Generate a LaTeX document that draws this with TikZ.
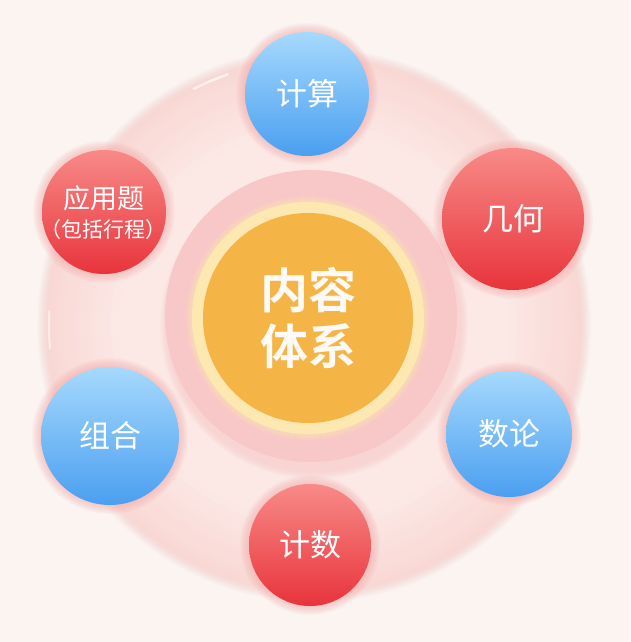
\documentclass[tikz,border=0pt]{standalone}
\usepackage{fontspec}
\newfontfamily\cjk{Noto Sans CJK SC}[BoldFont={Noto Sans CJK SC Bold}]
\definecolor{bgc}{HTML}{FBF4F1}
\definecolor{glowc}{HTML}{F6A8A8}
\definecolor{outerpink}{HTML}{F9D8D4}
\definecolor{lightpink}{HTML}{FCEAE7}
\definecolor{innerpink}{HTML}{F8C7C7}
\definecolor{creamc}{HTML}{FDE8B2}
\definecolor{orangec}{HTML}{F5B446}
\definecolor{bluetop}{HTML}{A6D9FD}
\definecolor{bluebot}{HTML}{4A9FF0}
\definecolor{redtop}{HTML}{F88A88}
\definecolor{redbot}{HTML}{E8343B}
\tikzset{
  sat/.style={circle, minimum size=#1, inner sep=0pt, text=white, align=center,
    font=\cjk\fontsize{31}{36}\selectfont},
  bluesat/.style={sat=#1, shading=axis, top color=bluetop, bottom color=bluebot},
  redsat/.style={sat=#1, shading=axis, top color=redtop, bottom color=redbot},
}
\begin{document}
\begin{tikzpicture}[x=1pt,y=-1pt]
\useasboundingbox (0,0) rectangle (630,642);
\fill[bgc] (0,0) rectangle (630,642);
% big background disc
\coordinate (C) at (314,325);
\foreach \k in {1,...,10} \fill[glowc, opacity=0.035] (C) circle ({267pt+\k pt});
\foreach \i in {0,...,19} {
  \pgfmathsetmacro{\rr}{267-4*\i}
  \pgfmathsetmacro{\mix}{100-5*\i}
  \fill[outerpink!\mix!lightpink] (C) circle (\rr pt);
}
% decorative white arc highlights
\draw[white, line width=2.5pt, line cap=round, opacity=0.6] (C) ++(109:265pt) arc[start angle=109, end angle=117, radius=265pt];
\draw[white, line width=2pt, line cap=round, opacity=0.5] (C) ++(177:265pt) arc[start angle=177, end angle=185, radius=265pt];
% inner pink disc
\foreach \k in {1,...,8} \fill[innerpink, opacity=0.09] (C) circle ({146pt+\k pt});
\fill[innerpink] (311,316) circle (146pt);
% core
\foreach \k in {1,...,6} \fill[creamc, opacity=0.12] (308,318) circle ({116pt+\k pt});
\node[circle, fill=creamc, minimum size=232pt, inner sep=0pt] (core) at (308,318) {};
\fill[orangec] (core.center) circle (105pt);
\node[text=white!96!orange, align=center, font=\cjk\bfseries\fontsize{48}{56}\selectfont] (coretxt) at (core.center) {内容\\体系};
% satellite glows
\foreach \p/\r in {{(307,94)}/62, {(513,219)}/71, {(509,434)}/63, {(310,545)}/61, {(110,436)}/69, {(104,212)}/62}
  \foreach \k in {1,...,9} \fill[glowc, opacity=0.07] \p circle ({\r pt+\k pt});
% satellites
\node[bluesat=124pt] (jisuan) at (307,94) {计算};
\node[redsat=142pt] (jihe) at (513,219) {几何};
\node[bluesat=126pt] (shulun) at (509,434) {数论};
\node[redsat=122pt] (jishu) at (310,545) {计数};
\node[bluesat=138pt] (zuhe) at (110,436) {组合};
\node[redsat=124pt] (yingyong) at (104,212) {};
\node[text=white, font=\cjk\fontsize{27}{32}\selectfont] (yy1) at (104,198) {应用题};
\node[text=white, font=\cjk\fontsize{21}{26}\selectfont] (yy2) at (103,230) {（包括行程）};
\end{tikzpicture}
\end{document}
